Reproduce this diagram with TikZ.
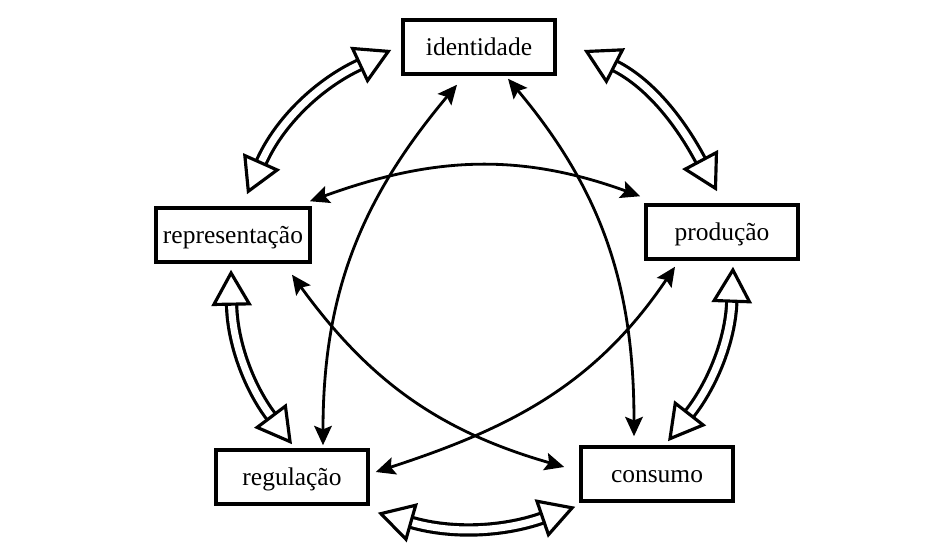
\documentclass[tikz,border=0pt]{standalone}
\usepackage{fontspec}
\setmainfont{Liberation Serif}
\usepackage{tikz}
\usetikzlibrary{arrows.meta, positioning}
\tikzstyle{box} = [rectangle, draw=black, line width=2pt, minimum width=3.04cm, minimum height=1.08cm, inner sep=4pt, text centered, text height=13pt, text depth=3.5pt, font=\fontsize{14.5}{17}\selectfont]
\tikzstyle{link} = [line width=1.6pt, {Stealth[length=11pt,width=10pt,inset=2pt]}-{Stealth[length=11pt,width=10pt,inset=2pt]}]
\tikzstyle{flow} = [double, double distance=4pt, line width=1.8pt, {Triangle[length=0.72cm,width=0.8cm,fill=white,line width=1.8pt]}-{Triangle[length=0.72cm,width=0.8cm,fill=white,line width=1.8pt]}]

\begin{document}
\begin{tikzpicture}
\useasboundingbox (0,0) rectangle (18.76,11.12);

\node[box] (ident) at (9.58,10.18) {identidade};
\node[box] (repr) at (4.66,6.42) {representação};
\node[box] (prod) at (14.44,6.48) {produção};
\node[box] (reg) at (5.84,1.58) {regulação};
\node[box] (cons) at (13.14,1.64) {consumo};

% ring of hollow arrows
\draw[flow] ([xshift=-0.2cm,yshift=-0.06cm]ident.west) to[out=205,in=66] ([xshift=0.28cm,yshift=0.24cm]repr.north);
\draw[flow] ([xshift=0.54cm,yshift=-0.06cm]ident.east) to[out=-27,in=118] ([xshift=-0.1cm,yshift=0.24cm]prod.north);
\draw[flow] ([xshift=0.22cm,yshift=-0.12cm]prod.south) to[out=268,in=52] ([xshift=0.22cm,yshift=0.08cm]cons.north);
\draw[flow] ([xshift=-0.08cm,yshift=-0.08cm]cons.south west) to[out=199,in=-16] ([xshift=0.16cm,yshift=-0.14cm]reg.south east);
\draw[flow] ([xshift=-0.04cm,yshift=-0.12cm]repr.south) to[out=271,in=127] ([yshift=0.08cm]reg.north);

% crossing links
\draw[link] ([xshift=-0.44cm,yshift=-0.18cm]ident.south) to[out=230,in=90] ([xshift=0.62cm,yshift=0.06cm]reg.north);
\draw[link] ([xshift=0.58cm,yshift=-0.06cm]ident.south) to[out=-50,in=90] ([xshift=-0.46cm,yshift=0.18cm]cons.north);
\draw[link] ([xshift=-0.04cm,yshift=0.1cm]repr.north east) to[out=20,in=160] ([xshift=-0.08cm,yshift=0.14cm]prod.north west);
\draw[link] ([xshift=1.18cm,yshift=-0.22cm]repr.south) to[out=-54,in=164] ([xshift=-0.3cm,yshift=0.14cm]cons.west);
\draw[link] ([xshift=-0.94cm,yshift=-0.12cm]prod.south) to[out=236,in=18] ([xshift=0.12cm,yshift=0.1cm]reg.east);
\end{tikzpicture}
\end{document}
